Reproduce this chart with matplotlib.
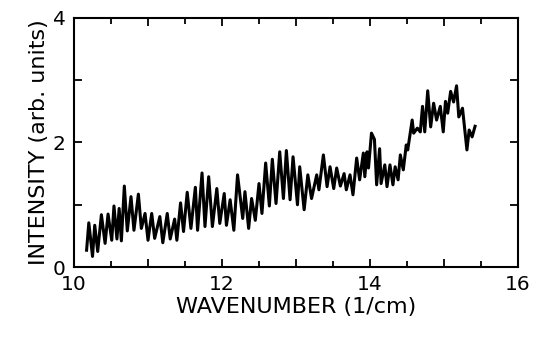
import matplotlib
matplotlib.use('Agg')
import matplotlib.pyplot as plt
from matplotlib.ticker import MultipleLocator

# peaks and troughs
wavenumber = [
    10.17, 10.20, 10.25, 10.28, 10.32, 10.37, 10.42, 10.46, 10.51, 10.54,
    10.58, 10.61, 10.64, 10.68, 10.72, 10.77, 10.81, 10.87, 10.91, 10.96,
    11.00, 11.05, 11.09, 11.16, 11.20, 11.26, 11.30, 11.36, 11.39, 11.44,
    11.48, 11.53, 11.58, 11.64, 11.67, 11.73, 11.77, 11.82, 11.87, 11.93,
    11.97, 12.03, 12.06, 12.11, 12.16, 12.21, 12.28, 12.31, 12.36, 12.40,
    12.45, 12.50, 12.54, 12.59, 12.64, 12.68, 12.73, 12.78, 12.83, 12.87,
    12.92, 12.96, 13.02, 13.05, 13.11, 13.16, 13.21, 13.28, 13.31, 13.37,
    13.42, 13.46, 13.51, 13.55, 13.60, 13.65, 13.68, 13.73, 13.77, 13.82,
    13.86, 13.91, 13.93, 13.96, 13.98, 14.02, 14.06, 14.09, 14.13, 14.15,
    14.20, 14.23, 14.27, 14.31, 14.34, 14.38, 14.41, 14.45, 14.49, 14.51,
    14.57, 14.59, 14.64, 14.68, 14.71, 14.74, 14.78, 14.82, 14.86, 14.90,
    14.95, 14.99, 15.02, 15.05, 15.09, 15.13, 15.17, 15.20, 15.25, 15.31,
    15.34, 15.38, 15.42,
]
intensity = [
    0.27, 0.71, 0.17, 0.67, 0.25, 0.84, 0.38, 0.85, 0.43, 0.98,
    0.45, 0.94, 0.42, 1.30, 0.58, 1.13, 0.59, 1.17, 0.62, 0.86,
    0.43, 0.86, 0.46, 0.81, 0.39, 0.86, 0.45, 0.77, 0.43, 1.03,
    0.57, 1.20, 0.62, 1.28, 0.59, 1.51, 0.65, 1.45, 0.65, 1.26,
    0.70, 1.18, 0.67, 1.08, 0.59, 1.48, 0.78, 1.21, 0.62, 1.10,
    0.75, 1.34, 0.86, 1.67, 0.98, 1.73, 1.02, 1.85, 1.10, 1.87,
    1.08, 1.77, 1.00, 1.61, 0.92, 1.48, 1.10, 1.48, 1.24, 1.80,
    1.29, 1.61, 1.26, 1.59, 1.30, 1.50, 1.24, 1.48, 1.16, 1.75,
    1.40, 1.83, 1.45, 1.85, 1.59, 2.15, 2.05, 1.32, 1.90, 1.34,
    1.64, 1.29, 1.64, 1.32, 1.61, 1.40, 1.80, 1.56, 1.96, 1.88,
    2.36, 2.15, 2.23, 2.17, 2.58, 2.17, 2.83, 2.25, 2.63, 2.36,
    2.58, 2.17, 2.66, 2.47, 2.82, 2.65, 2.91, 2.41, 2.55, 1.88,
    2.20, 2.09, 2.26,
]
x_labels = {10: '10', 12: '12', 14: '14', 16: '16'}
y_labels = {0: '0', 2: '2', 4: '4'}

plt.rcParams['font.family'] = ['DejaVu Sans']

fig = plt.figure(figsize=(5.34, 3.38), dpi=100)
ax = fig.add_axes([0.1386, 0.210, 0.8314, 0.737])
ax.plot(wavenumber, intensity, color='black', linewidth=2.2, solid_joinstyle='round')

ax.set_xlim(10, 16)
ax.set_ylim(0, 4)
ax.xaxis.set_major_locator(MultipleLocator(1))
ax.xaxis.set_minor_locator(MultipleLocator(0.5))
ax.yaxis.set_major_locator(MultipleLocator(1))
ax.set_xticklabels([x_labels.get(int(round(t)), '') for t in ax.get_xticks()])
ax.set_yticklabels([y_labels.get(int(round(t)), '') for t in ax.get_yticks()])
ax.tick_params(which='both', direction='in', top=True, right=True,
               width=1.3, labelsize=14.5, pad=6)
ax.tick_params(which='major', length=6)
ax.tick_params(which='minor', length=4)
for s in ax.spines.values():
    s.set_linewidth(1.5)

ax.set_xlabel('WAVENUMBER (1/cm)', fontsize=16, labelpad=2)
ax.set_ylabel('INTENSITY (arb. units)', fontsize=16, labelpad=3)

fig.savefig('out.png', dpi=100)
